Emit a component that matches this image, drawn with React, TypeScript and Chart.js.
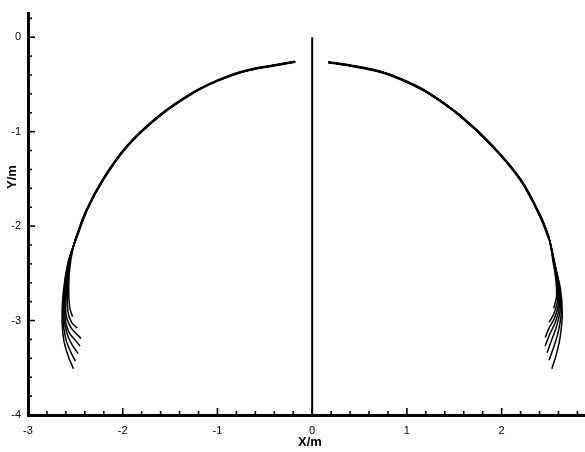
import { useEffect, useRef } from "react";
import { Chart, registerables } from "chart.js";

Chart.register(...registerables);

// Axis tick labels
const xTickValues = [-3, -2, -1, 0, 1, 2];
const yTickValues = [-4, -3, -2, -1, 0];

// Shared upper arc, left branch
const leftArcX = [-0.18, -0.41, -0.72, -1.0, -1.26, -1.61, -1.96, -2.21, -2.38, -2.5];
const leftArcY = [-0.26, -0.3, -0.36, -0.46, -0.59, -0.83, -1.16, -1.51, -1.83, -2.15];

// Shared upper arc, right branch
const rightArcX = [0.17, 0.4, 0.7, 0.95, 1.21, 1.56, 1.91, 2.2, 2.41, 2.5];
const rightArcY = [-0.265, -0.3, -0.36, -0.45, -0.58, -0.83, -1.16, -1.51, -1.9, -2.13];

// Lower ends of the individual strands, left branch
const leftTailX = [
  [-2.58, -2.63, -2.64, -2.62, -2.57, -2.52],
  [-2.58, -2.62, -2.63, -2.6, -2.55, -2.5],
  [-2.57, -2.61, -2.62, -2.58, -2.52, -2.47],
  [-2.57, -2.6, -2.61, -2.57, -2.5, -2.45],
  [-2.56, -2.59, -2.6, -2.55, -2.49, -2.44],
  [-2.56, -2.58, -2.58, -2.54, -2.48],
  [-2.55, -2.57, -2.56, -2.53],
];
const leftTailY = [
  [-2.4, -2.72, -3.02, -3.22, -3.39, -3.51],
  [-2.4, -2.72, -3.0, -3.2, -3.33, -3.43],
  [-2.4, -2.7, -2.98, -3.16, -3.28, -3.35],
  [-2.39, -2.68, -2.96, -3.12, -3.21, -3.27],
  [-2.38, -2.66, -2.93, -3.07, -3.14, -3.19],
  [-2.38, -2.64, -2.9, -3.02, -3.08],
  [-2.37, -2.62, -2.86, -2.96],
];

// Lower ends of the individual strands, right branch
const rightTailX = [
  [2.56, 2.62, 2.64, 2.62, 2.58, 2.53],
  [2.56, 2.61, 2.63, 2.6, 2.55, 2.5],
  [2.56, 2.6, 2.62, 2.58, 2.53, 2.48],
  [2.55, 2.6, 2.61, 2.57, 2.51, 2.46],
  [2.55, 2.59, 2.6, 2.56, 2.5, 2.46],
  [2.55, 2.58, 2.59, 2.55, 2.5],
  [2.54, 2.57, 2.58, 2.55],
];
const rightTailY = [
  [-2.4, -2.66, -2.92, -3.16, -3.35, -3.51],
  [-2.4, -2.65, -2.9, -3.11, -3.28, -3.42],
  [-2.39, -2.63, -2.87, -3.06, -3.2, -3.34],
  [-2.38, -2.61, -2.84, -3.01, -3.14, -3.27],
  [-2.38, -2.59, -2.81, -2.97, -3.08, -3.18],
  [-2.37, -2.57, -2.78, -2.93, -3.02],
  [-2.36, -2.55, -2.74, -2.87],
];

// Centre line
const centerX = [0, 0];
const centerY = [0, -4];

const toPoints = (xs: number[], ys: number[]) => xs.map((x, i) => ({ x, y: ys[i] }));

const FONT = "'Liberation Sans', Arial, sans-serif";

const axisDecor = {
  id: "axisDecor",
  afterDraw(chart: any) {
    const { ctx, chartArea, scales } = chart;
    const xs = scales.x;
    const ys = scales.y;
    ctx.save();
    ctx.strokeStyle = "#000";
    ctx.lineWidth = 1.6;
    // inward tick marks every 0.2, longer at whole units
    for (let i = -15; i <= 14; i++) {
      const px = xs.getPixelForValue(i / 5);
      const len = i % 5 === 0 ? 7 : 4;
      ctx.beginPath();
      ctx.moveTo(px, chartArea.bottom);
      ctx.lineTo(px, chartArea.bottom - len);
      ctx.stroke();
    }
    for (let i = -20; i <= 1; i++) {
      const py = ys.getPixelForValue(i / 5);
      const len = i % 5 === 0 ? 7 : 4;
      ctx.beginPath();
      ctx.moveTo(chartArea.left, py);
      ctx.lineTo(chartArea.left + len, py);
      ctx.stroke();
    }
    // axis titles
    ctx.fillStyle = "#000";
    ctx.font = `bold 13px ${FONT}`;
    ctx.textAlign = "center";
    ctx.textBaseline = "middle";
    ctx.fillText("X/m", 310, 442);
    ctx.translate(12, 177);
    ctx.rotate(-Math.PI / 2);
    ctx.fillText("Y/m", 0, 0);
    ctx.restore();
  },
};

export default function App() {
  const ref = useRef<HTMLCanvasElement>(null);

  useEffect(() => {
    if (!ref.current) return;
    const thin = { borderColor: "#000", borderWidth: 1.5, pointRadius: 0, showLine: true, tension: 0.35, fill: false };
    const datasets: any[] = [];
    datasets.push({ ...thin, borderWidth: 2.6, data: toPoints(leftArcX, leftArcY) });
    datasets.push({ ...thin, borderWidth: 2.6, data: toPoints(rightArcX, rightArcY) });
    leftTailX.forEach((tx, k) => {
      datasets.push({ ...thin, data: toPoints(leftArcX.concat(tx), leftArcY.concat(leftTailY[k])) });
    });
    rightTailX.forEach((tx, k) => {
      datasets.push({ ...thin, data: toPoints(rightArcX.concat(tx), rightArcY.concat(rightTailY[k])) });
    });
    datasets.push({ ...thin, borderWidth: 2, tension: 0, data: toPoints(centerX, centerY) });

    const chart = new Chart(ref.current, {
      type: "scatter",
      data: { datasets },
      options: {
        responsive: false,
        animation: false,
        layout: { padding: { top: 13, right: 0, left: 0, bottom: 0 } },
        plugins: { legend: { display: false }, tooltip: { enabled: false } },
        scales: {
          x: {
            type: "linear",
            min: -3,
            max: 2.88,
            grid: { display: false, drawTicks: false },
            border: { display: true, color: "#000", width: 3 },
            ticks: {
              color: "#000",
              padding: 9,
              font: { family: FONT, size: 11 },
              autoSkip: false,
              maxRotation: 0,
              callback: (v: any) => String(v),
            },
            afterBuildTicks: (s: any) => {
              s.ticks = xTickValues.map((value) => ({ value }));
            },
            afterFit: (s: any) => {
              s.height = 37;
            },
          },
          y: {
            type: "linear",
            min: -4,
            max: 0.25,
            grid: { display: false, drawTicks: false },
            border: { display: true, color: "#000", width: 3 },
            ticks: {
              color: "#000",
              padding: 7,
              font: { family: FONT, size: 11 },
              autoSkip: false,
              callback: (v: any) => String(v),
            },
            afterBuildTicks: (s: any) => {
              s.ticks = yTickValues.map((value) => ({ value }));
            },
            afterFit: (s: any) => {
              s.width = 28;
            },
          },
        },
      },
      plugins: [axisDecor],
    });
    return () => chart.destroy();
  }, []);

  return (
    <div style={{ position: "fixed", left: 0, top: 0, width: 585, height: 452, background: "#fff" }}>
      <canvas ref={ref} width={585} height={452} />
    </div>
  );
}
